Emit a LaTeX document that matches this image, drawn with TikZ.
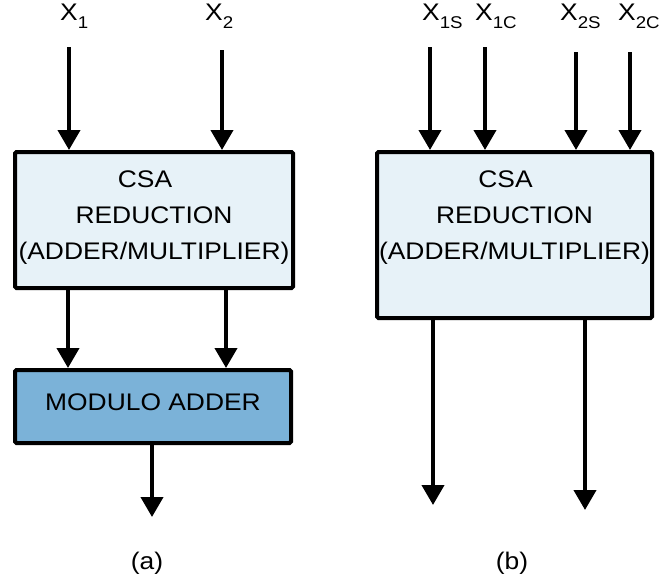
\documentclass[tikz,border=0pt]{standalone}
\usepackage{fontspec}
\usetikzlibrary{arrows.meta}
\newfontfamily\diagfont[FakeStretch=1.1]{Liberation Sans}
\definecolor{lightbox}{RGB}{231,242,248}
\definecolor{modbox}{RGB}{123,178,216}
\newcommand{\subs}[1]{\raisebox{-8pt}{\fontsize{17}{17}\selectfont #1}}
\begin{document}
\begin{tikzpicture}[x=1pt,y=-1pt,
  every node/.style={font=\diagfont\fontsize{24}{36}\selectfont, inner sep=0pt},
  blockbox/.style={draw=black, line width=4pt, rounded corners=1.5pt, inner sep=0pt},
  arr/.style={line width=4pt, -{Triangle[width=22pt,length=20pt]}},
  lbl/.style={anchor=base west},
  btext/.style={align=center}
]
\useasboundingbox (0,0) rectangle (661,584);

% ---------- (a) ----------
\node[blockbox, fill=lightbox, minimum width=278pt, minimum height=136pt] (b1) at (154,220) {};
\node[btext] (t1) at (154,218) {CSA\hspace*{18pt}\\REDUCTION\\(ADDER/MULTIPLIER)};
\node[blockbox, fill=modbox, minimum width=276pt, minimum height=73pt] (m1) at (153,406.5) {};
\node (mt) at (153,402) {MODULO ADDER};

\node[lbl] (lx1) at (60,20) {X\subs{1}};
\node[lbl] (lx2) at (205,20) {X\subs{2}};

\coordinate (i1) at (69,47);
\coordinate (i2) at (222,50);
\draw[arr] (i1) -- (i1 |- b1.north);
\draw[arr] (i2) -- (i2 |- b1.north);

\coordinate (o1) at (68,300);
\coordinate (o2) at (226,300);
\draw[arr] (o1 |- b1.south) -- (o1 |- m1.north);
\draw[arr] (o2 |- b1.south) -- (o2 |- m1.north);

\coordinate (mo) at (152,517);
\draw[arr] (mo |- m1.south) -- (mo);

\node (la) at (147,563) {(a)};

% ---------- (b) ----------
\node[blockbox, fill=lightbox, minimum width=275pt, minimum height=166pt] (b2) at (514.5,235) {};
\node[btext] (t2) at (514.5,218) {CSA\hspace*{18pt}\\REDUCTION\\(ADDER/MULTIPLIER)};

\node[lbl] (lx1s) at (422,20) {X\subs{1S}};
\node[lbl] (lx1c) at (475,20) {X\subs{1C}};
\node[lbl] (lx2s) at (560,20) {X\subs{2S}};
\node[lbl] (lx2c) at (618,20) {X\subs{2C}};

\coordinate (j1) at (430,47);
\coordinate (j2) at (485,47);
\coordinate (j3) at (576,52);
\coordinate (j4) at (630,52);
\draw[arr] (j1) -- (j1 |- b2.north);
\draw[arr] (j2) -- (j2 |- b2.north);
\draw[arr] (j3) -- (j3 |- b2.north);
\draw[arr] (j4) -- (j4 |- b2.north);

\coordinate (p1) at (433,505);
\coordinate (p2) at (585,510);
\draw[arr] (p1 |- b2.south) -- (p1);
\draw[arr] (p2 |- b2.south) -- (p2);

\node (lb) at (512,563) {(b)};
\end{tikzpicture}
\end{document}
